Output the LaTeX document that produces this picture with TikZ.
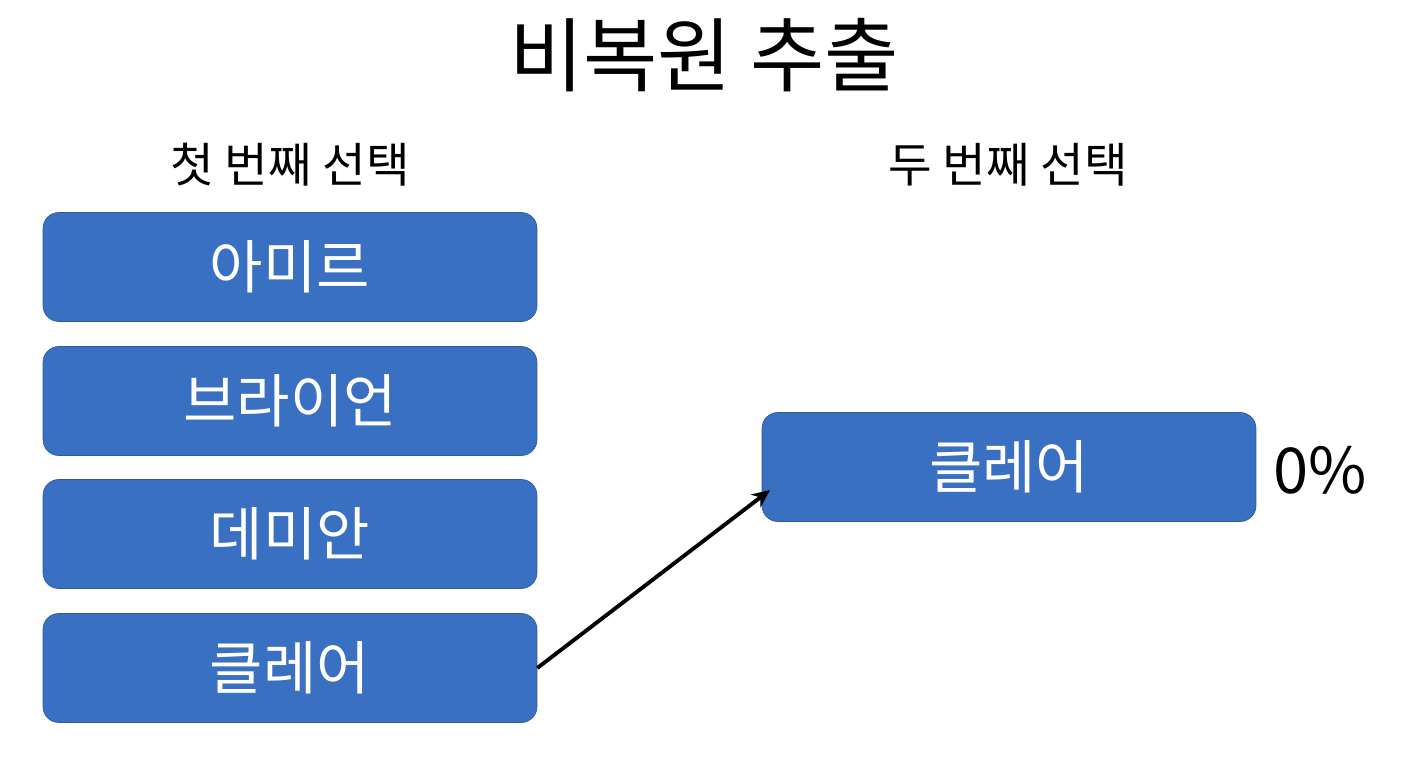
\documentclass[tikz,border=0pt]{standalone}
\usepackage{fontspec}
\setmainfont{Noto Sans CJK KR}
\usetikzlibrary{positioning,arrows.meta}
\definecolor{boxblue}{HTML}{3A70C2}
\definecolor{boxedge}{HTML}{2B5A9E}
\tikzset{>={Stealth[width=3.2mm,length=3.6mm]}}

\begin{document}
\begin{tikzpicture}[x=0.02cm,y=-0.02cm]
          \tikzstyle{cnode} = [draw=boxedge, fill=boxblue, rounded corners = 9pt, minimum width = 9.88cm, minimum height = 2.18cm, inner sep = 0pt, text=white, font=\fontsize{33}{36}\selectfont]
          \tikzstyle{head} = [font=\fontsize{27}{30}\selectfont]

          \useasboundingbox (0,0) rectangle (1408,768);
          \node[font=\fontsize{46}{50}\selectfont] (title) at (704,55) {비복원 추출};
          \node[head] (h1) at (290,165) {첫 번째 선택};
          \node[head] (h2) at (1008,165) {두 번째 선택};

          \node[cnode] (a) at (290,267) {아미르};
          \node[cnode] (b) at (290,401) {브라이언};
          \node[cnode] (d) at (290,534) {데미안};
          \node[cnode] (c1) at (290,668) {클레어};
          \node[cnode] (c2) at (1009,467) {클레어};
          \node[font=\fontsize{36}{40}\selectfont] (p) at (1320,470) {0\%};

          \coordinate (tip) at (770,490);
          \draw[->, line width=2.2pt] (c1.east) to (tip);
\end{tikzpicture}
\end{document}
